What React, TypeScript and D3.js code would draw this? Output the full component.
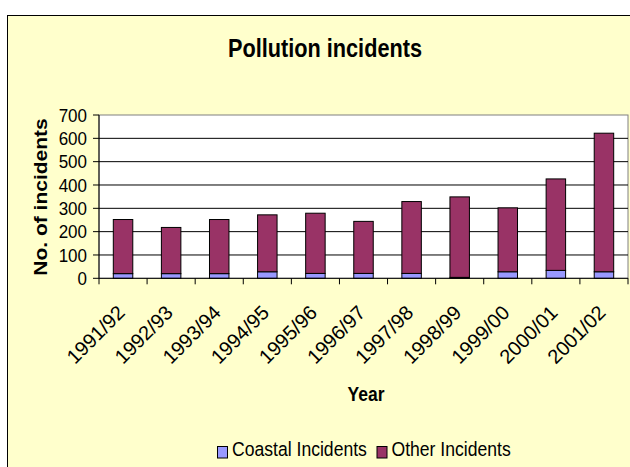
import React from 'react';
import * as d3 from 'd3';

const categories = ['1991/92', '1992/93', '1993/94', '1994/95', '1995/96', '1996/97', '1997/98', '1998/99', '1999/00', '2000/01', '2001/02'];
const coastal = [20, 20, 20, 28, 21, 21, 21, 4, 28, 34, 28];
const other = [232, 198, 232, 244, 258, 223, 308, 345, 274, 392, 594];
const yTicks = [0, 100, 200, 300, 400, 500, 600, 700];
const seriesNames = ['Coastal Incidents', 'Other Incidents'];
const seriesColors = ['#9999FF', '#993366'];

const W = 630;
const H = 467;
const FONT = '"Liberation Sans", Arial, sans-serif';

export default function App() {
  const left = 99;
  const right = 628;
  const top = 115;
  const bottom = 278.3;

  const x = d3.scaleBand<string>().domain(categories).range([left, right]).paddingInner(0.595).paddingOuter(0.2975);
  const step = (right - left) / categories.length;
  const y = d3.scaleLinear().domain([0, 700]).range([bottom, top]);

  const rows = categories.map((c, i) => ({ cat: c, coastal: coastal[i], other: other[i] }));
  const stacked = d3.stack<any>().keys(['coastal', 'other'])(rows as any);

  return (
    <svg width={W} height={H} style={{ position: 'absolute', left: 0, top: 0 }} fontFamily={FONT}>
      <rect x={0} y={0} width={W} height={H} fill="#ffffff" />
      <rect x={7.5} y={15.5} width={700} height={500} fill="#FFFFCC" stroke="#000" strokeWidth={1} />
      {/* title */}
      <text transform={`translate(325,57) scale(1,1.22)`} textAnchor="middle" fontSize={21.7} fontWeight="bold" fill="#000">
        Pollution incidents
      </text>
      {/* plot area */}
      <rect x={left} y={top} width={right - left} height={bottom - top} fill="#ffffff" stroke="#808080" strokeWidth={1} />
      {yTicks.filter(t => t > 0 && t < 700).map(t => (
        <line key={t} x1={left} x2={right} y1={y(t)} y2={y(t)} stroke="#000" strokeWidth={1} />
      ))}
      {/* bars */}
      {stacked.map((s, si) =>
        s.map((d, i) => (
          <rect
            key={`${si}-${i}`}
            x={x(categories[i])!}
            y={y(d[1])}
            width={x.bandwidth()}
            height={y(d[0]) - y(d[1])}
            fill={seriesColors[si]}
            stroke="#000"
            strokeWidth={1}
          />
        ))
      )}
      {/* axes */}
      <line x1={left} x2={left} y1={top} y2={bottom} stroke="#000" />
      <line x1={left} x2={right} y1={bottom} y2={bottom} stroke="#000" />
      {yTicks.map(t => (
        <g key={t}>
          <line x1={left - 6} x2={left} y1={y(t)} y2={y(t)} stroke="#000" />
          <text transform={`translate(87,${y(t) + 6.7}) scale(1,1.1)`} textAnchor="end" fontSize={17} fill="#000">
            {t}
          </text>
        </g>
      ))}
      {d3.range(categories.length + 1).map(i => (
        <line key={i} x1={left + i * step} x2={left + i * step} y1={bottom} y2={bottom + 6} stroke="#000" />
      ))}
      {categories.map(c => {
        const cx = x(c)! + x.bandwidth() / 2;
        return (
          <text key={c} transform={`translate(${cx + 3},314) rotate(-45)`} textAnchor="end" fontSize={20} fill="#000">
            {c}
          </text>
        );
      })}
      {/* axis titles */}
      <text transform={`translate(366,400.7) scale(1,1.18)`} textAnchor="middle" fontSize={17.5} fontWeight="bold" fill="#000">
        Year
      </text>
      <text transform={`translate(47,197) scale(1,1.2) rotate(-90)`} textAnchor="middle" fontSize={17.5} fontWeight="bold" fill="#000">
        No. of incidents
      </text>
      {/* legend */}
      {seriesNames.map((n, i) => {
        const lx = i === 0 ? 217 : 376.5;
        return (
          <g key={n}>
            <rect x={lx + 0.5} y={446.5} width={10} height={11.5} fill={seriesColors[i]} stroke="#000" strokeWidth={1} />
            <text transform={`translate(${lx + 15},456) scale(1,1.2)`} fontSize={17.6} fill="#000">
              {n}
            </text>
          </g>
        );
      })}
    </svg>
  );
}
